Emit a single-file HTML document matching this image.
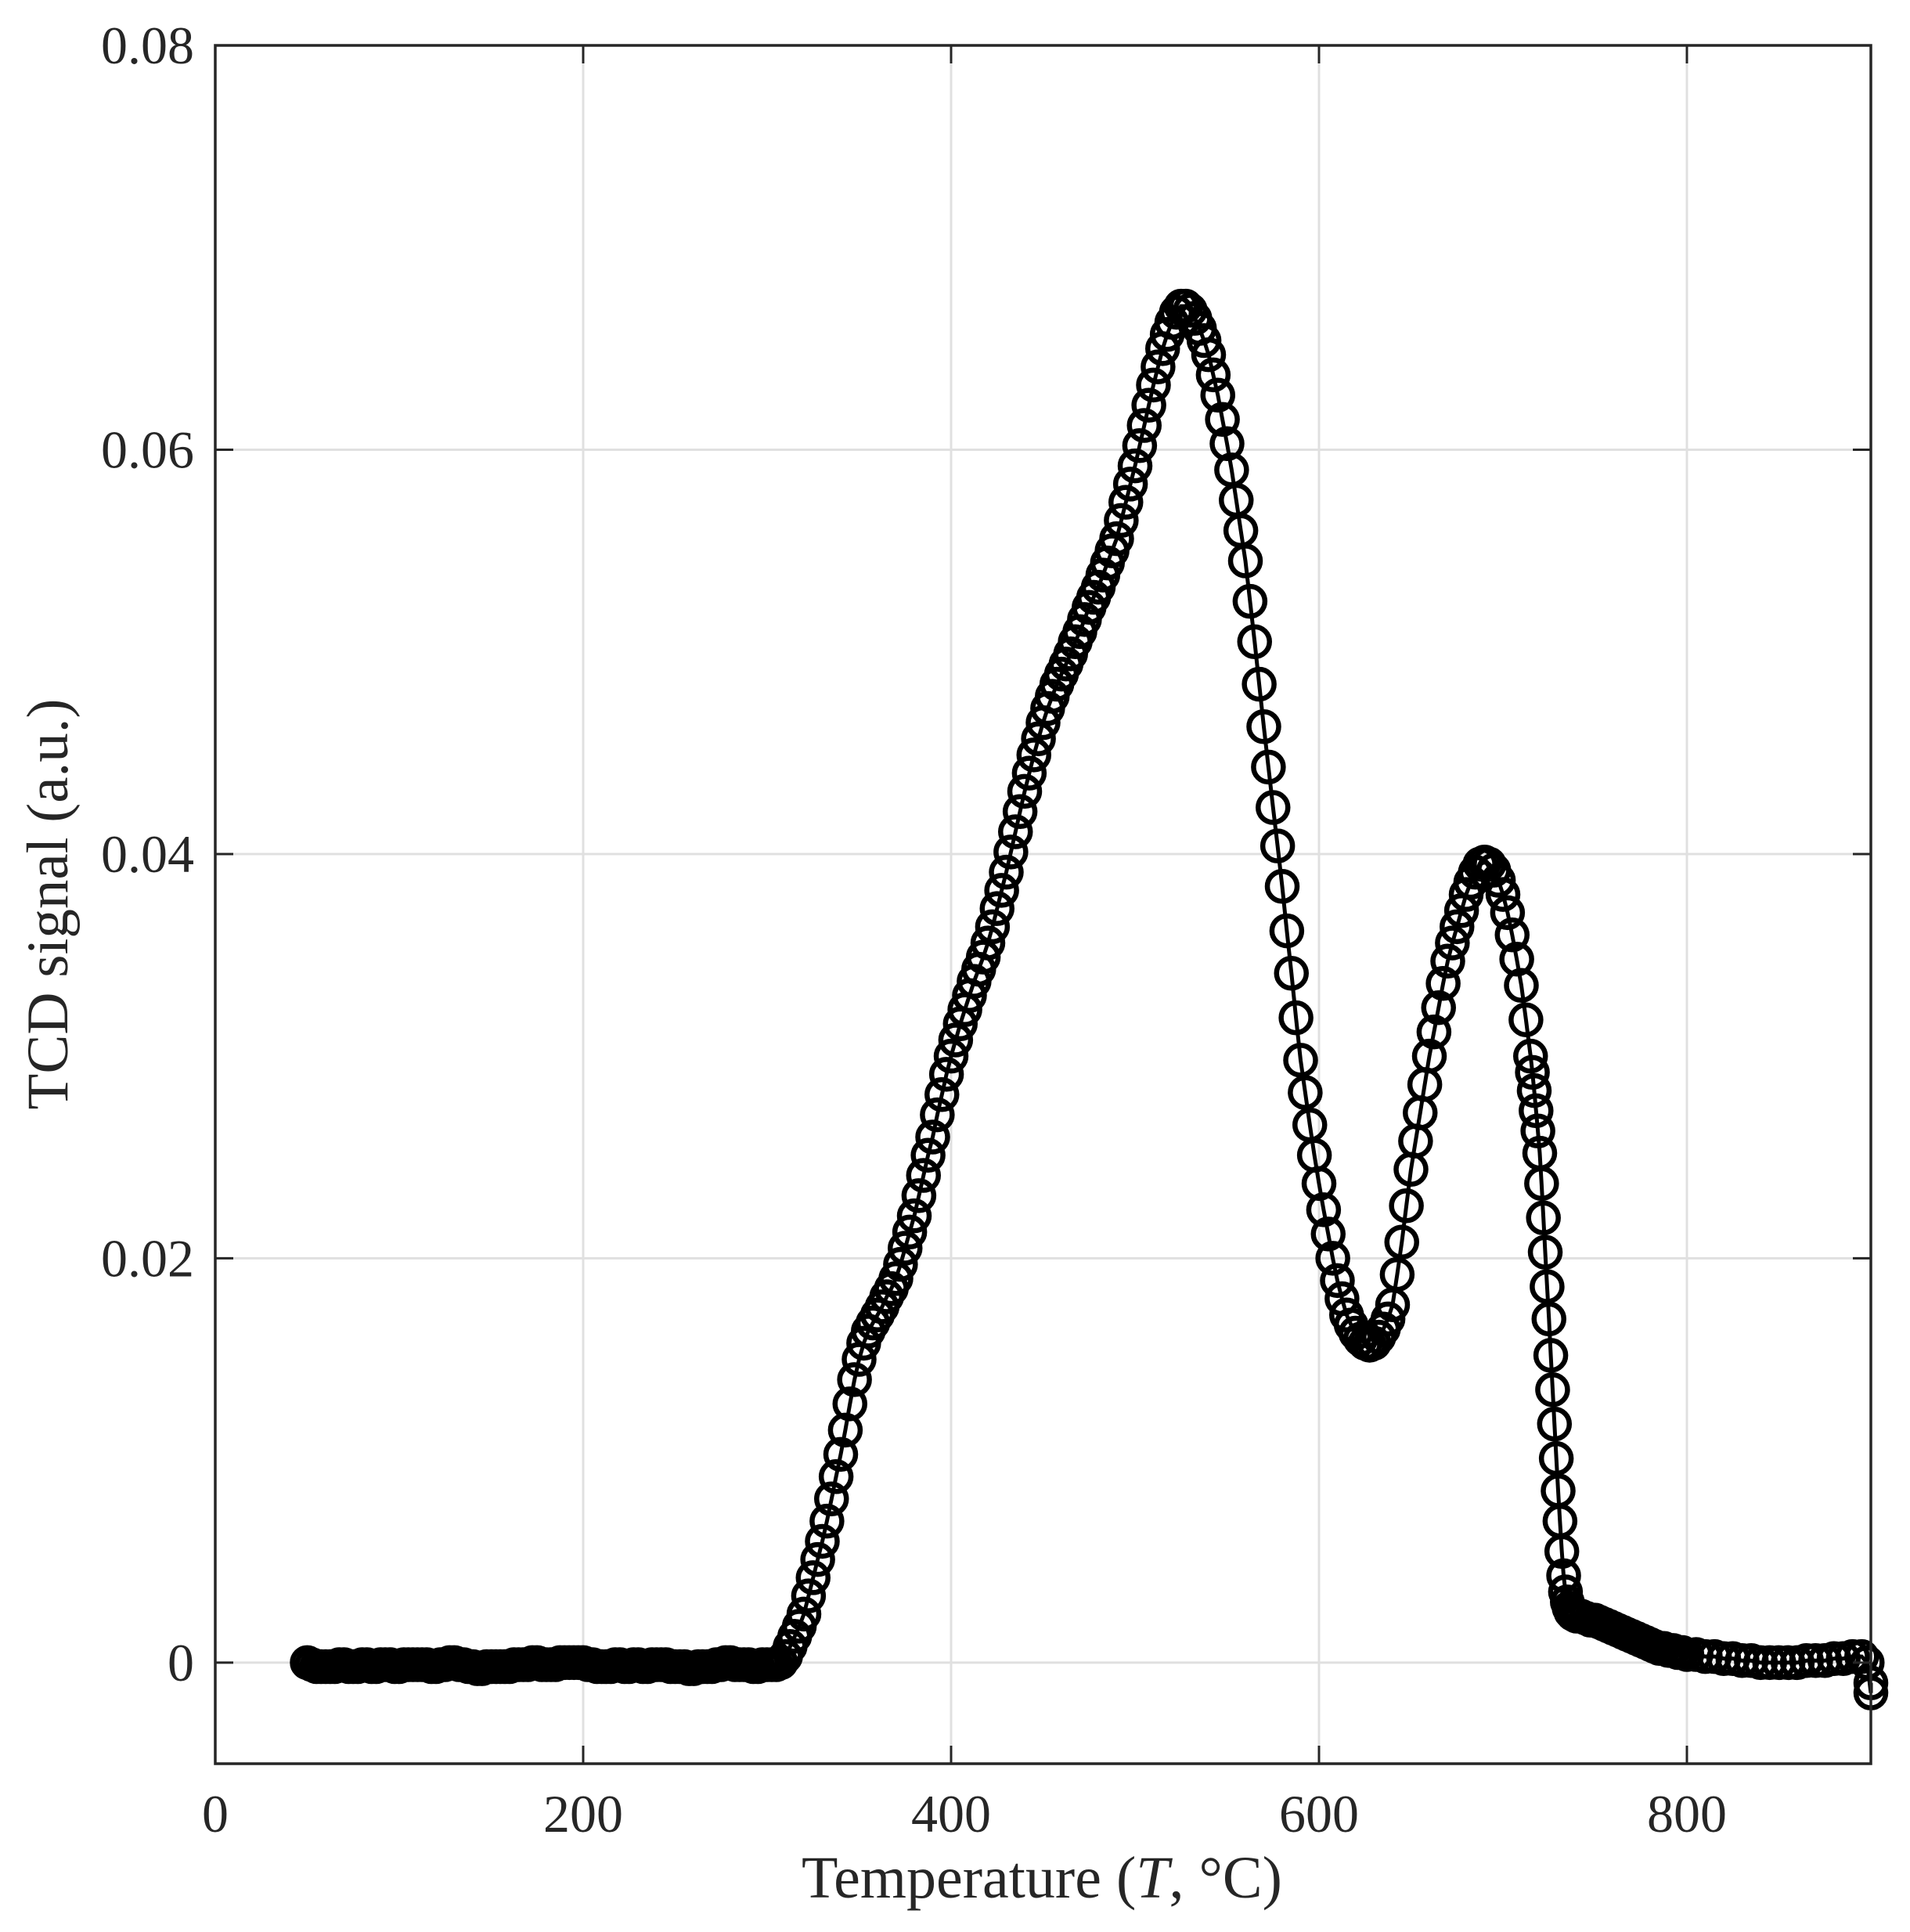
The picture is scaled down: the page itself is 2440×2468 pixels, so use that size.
<!DOCTYPE html>
<html><head><meta charset="utf-8"><style>
html,body{margin:0;padding:0;background:#fff;}
svg{display:block;}
text{font-family:"Liberation Serif",serif;fill:#262626;}
</style></head><body>
<svg id="chart" width="2440" height="2468" viewBox="0 0 2440 2468" xmlns="http://www.w3.org/2000/svg">
<rect width="2440" height="2468" fill="#fff"/>
<g id="grid"></g>
<g id="series"></g>
<g id="axes"></g>
<text x="1331" y="2424" font-size="76" text-anchor="middle">Temperature (<tspan font-style="italic">T</tspan>, °C)</text>
<text transform="translate(86,1155) rotate(-90)" font-size="75" text-anchor="middle">TCD signal (a.u.)</text>
</svg>
<script>
const xTicks=[0,200,400,600,800];
const xTickLabels=["0","200","400","600","800"];
const yTicks=[0,0.02,0.04,0.06,0.08];
const yTickLabels=["0","0.02","0.04","0.06","0.08"];
const temps=[50,52.5,55,57.5,60,62.5,65,67.5,70,72.5,75,77.5,80,82.5,85,87.5,90,92.5,95,97.5,100,102.5,105,107.5,110,112.5,115,117.5,120,122.5,125,127.5,130,132.5,135,137.5,140,142.5,145,147.5,150,152.5,155,157.5,160,162.5,165,167.5,170,172.5,175,177.5,180,182.5,185,187.5,190,192.5,195,197.5,200,202.5,205,207.5,210,212.5,215,217.5,220,222.5,225,227.5,230,232.5,235,237.5,240,242.5,245,247.5,250,252.5,255,257.5,260,262.5,265,267.5,270,272.5,275,277.5,280,282.5,285,287.5,290,292.5,295,297.5,300,302.5,
305,307.5,310,312.5,315,317.5,320,322.5,325,327.5,330,332.5,335,337.5,340,342.5,345,347.5,350,352.5,355,357.5,360,362.5,365,367.5,370,372.5,375,377.5,380,382.5,385,387.5,390,392.5,395,397.5,400,402.5,405,407.5,410,412.5,415,417.5,420,422.5,425,427.5,430,432.5,435,437.5,440,442.5,445,447.5,450,452.5,455,457.5,460,462.5,465,467.5,470,472.5,475,477.5,480,482.5,485,487.5,490,492.5,495,497.5,500,502.5,505,507.5,510,512.5,515,517.5,520,522.5,525,527.5,530,532.5,535,537.5,540,542.5,545,547.5,
550,552.5,555,557.5,560,562.5,565,567.5,570,572.5,575,577.5,580,582.5,585,587.5,590,592.5,595,597.5,600,602.5,605,607.5,610,612.5,615,617.5,620,622.5,625,627.5,630,
632.5,635,637.5,640,642.5,645,647.5,650,652.5,655,657.5,660,662.5,665,667.5,670,672.5,675,677.5,680,682.5,685,687.5,690,692.5,695,697.5,700,702.5,705,707.5,710,712.5,
715,716,717,718,719,720,721,722,723,724,725,726,727,728,729,730,731,732,733,734,735,736,737,738,740,
742.5,745,747.5,750,752.5,755,757.5,760,762.5,765,767.5,770,772.5,775,777.5,780,782.5,785,787.5,790,792.5,795,797.5,800,805,810,815,820,825,830,835,840,845,850,855,860,865,870,875,880,885,890,895,898,900,900];
const signal=[0,-0.0001,-0.0002,-0.0002,-0.0002,-0.0002,-0.0002,-0.0001,-0.0001,-0.0002,-0.0002,-0.0002,-0.0001,-0.0001,-0.0002,-0.0002,-0.0001,-0.0001,-0.0001,-0.0002,-0.0002,-0.0001,-0.0001,-0.0001,-0.0001,-0.0001,-0.0001,-0.0002,-0.0002,-0.0001,-0.0001,0,0,-0.0001,-0.0001,-0.0002,-0.0002,-0.0003,-0.0003,-0.0002,-0.0002,-0.0002,-0.0002,-0.0002,-0.0002,-0.0001,-0.0001,-0.0001,-0.0001,0,0,-0.0001,-0.0001,-0.0001,-0.0001,0,0,0,0,0,0,-0.0001,-0.0001,-0.0002,-0.0002,-0.0002,-0.0002,-0.0001,-0.0001,-0.0002,-0.0002,-0.0001,-0.0001,-0.0002,-0.0002,-0.0001,-0.0001,-0.0001,-0.0001,-0.0002,-0.0002,-0.0002,-0.0002,-0.0003,-0.0003,-0.0002,-0.0002,-0.0002,-0.0002,-0.0001,-0.0001,0,0,-0.0001,-0.0001,-0.0001,-0.0001,-0.0002,-0.0002,-0.0001,-0.0001,-0.0001,
-0.0001,0,0.0003,0.0008,0.0013,0.0018,0.0024,0.0033,0.0042,0.0051,0.0060,0.0070,0.0081,0.0092,0.0103,0.0115,0.0128,0.0140,0.0150,0.0158,0.0164,0.0168,0.0172,0.0176,0.0181,0.0185,0.0190,0.0197,0.0205,0.0213,0.0221,0.0231,0.0241,0.0251,0.0260,0.0271,0.0281,0.0291,0.0300,0.0308,0.0316,0.0323,0.0330,0.0337,0.0343,0.0349,0.0356,0.0364,0.0373,0.0382,0.0391,0.0401,0.0411,0.0421,0.0431,0.0440,0.0449,0.0457,0.0465,0.0472,0.0478,0.0484,0.0489,0.0494,0.0499,0.0505,0.0510,0.0516,0.0522,0.0527,0.0532,0.0538,0.0544,0.0550,0.0556,0.0565,0.0574,0.0583,0.0592,0.0602,0.0612,0.0622,0.0632,0.0641,0.0650,0.0657,0.0663,0.0668,0.0671,0.0671,0.0669,0.0665,0.0660,0.0654,0.0647,0.0637,0.0627,0.0615,
0.0603,0.0590,0.0575,0.0560,0.0545,0.0525,0.0505,0.0484,0.0463,0.0443,0.0423,0.0404,0.0384,0.0362,0.0341,0.0319,0.0298,0.0282,0.0266,0.0251,0.0237,0.0224,0.0212,0.0200,0.0189,0.0180,0.0172,0.0167,0.0163,0.0160,0.0158,0.0157,0.0158,
0.0161,0.0165,0.0170,0.0177,0.0192,0.0208,0.0226,0.0244,0.0258,0.0272,0.0286,0.0300,0.0312,0.0324,0.0336,0.0347,0.0356,0.0364,0.0372,0.0380,0.0386,0.0391,0.0395,0.0396,0.0395,0.0392,0.0387,0.0380,0.0371,0.0360,0.0348,0.0335,0.0318,
0.0300,0.0292,0.0283,0.0273,0.0263,0.0252,0.0237,0.0220,0.0203,0.0186,0.0170,0.0152,0.0135,0.0118,0.0101,0.0085,0.0070,0.0055,0.0043,0.0035,0.0030,0.0027,0.0025,0.0024,0.0023,
0.0023,0.0022,0.0021,0.0021,0.0020,0.0019,0.0018,0.0017,0.0016,0.0015,0.0014,0.0013,0.0012,0.0011,0.0010,0.0009,0.0008,0.0007,0.0007,0.0006,0.0006,0.0005,0.0005,0.0004,0.0004,0.0003,0.0003,0.0002,0.0002,0.0001,0.0001,0,0,0,0,0,0.0001,0.0001,0.0001,0.0002,0.0002,0.0003,0.0003,0,-0.0015,-0.0010];

const L=275,R=2390,T=58,B=2253;
const xMin=0,xMax=900,yMin=-0.005,yMax=0.08;
function xs(v){return L+(v-xMin)/(xMax-xMin)*(R-L);}
function ys(v){return B-(v-yMin)/(yMax-yMin)*(B-T);}
const NS="http://www.w3.org/2000/svg";
function mk(tag,attrs,parent){const e=document.createElementNS(NS,tag);for(const k in attrs)e.setAttribute(k,attrs[k]);parent.appendChild(e);return e;}
const grid=document.getElementById('grid'),axes=document.getElementById('axes'),series=document.getElementById('series');
xTicks.forEach((t,i)=>{
  const x=xs(t);
  const g=mk('line',{x1:x,x2:x,y1:T,y2:B,stroke:'#e0e0e0','stroke-width':3},grid);
  
  
  const t1=mk('line',{x1:x,x2:x,y1:B,y2:B-23,stroke:'#262626','stroke-width':3},axes);
  
  
  const t2=mk('line',{x1:x,x2:x,y1:T,y2:T+23,stroke:'#262626','stroke-width':3},axes);
  
  
  const lb=mk('text',{x:x,y:2340,'font-size':68,'text-anchor':'middle'},axes);
  lb.textContent=xTickLabels[i];
  
  
});
yTicks.forEach((t,i)=>{
  const y=ys(t);
  const g=mk('line',{x1:L,x2:R,y1:y,y2:y,stroke:'#e0e0e0','stroke-width':3},grid);
  
  
  const t1=mk('line',{x1:L,x2:L+23,y1:y,y2:y,stroke:'#262626','stroke-width':3},axes);
  
  
  const t2=mk('line',{x1:R,x2:R-23,y1:y,y2:y,stroke:'#262626','stroke-width':3},axes);
  
  
  const lb=mk('text',{x:248,y:y+23,'font-size':68,'text-anchor':'end'},axes);
  lb.textContent=yTickLabels[i];
  
  
});
const frame=mk('rect',{x:L,y:T,width:R-L,height:B-T,fill:'none',stroke:'#262626','stroke-width':3.5},axes);


let d='';
temps.forEach((t,i)=>{d+=(i?'L':'M')+xs(t).toFixed(1)+' '+ys(signal[i]).toFixed(1);});
const line=mk('path',{d:d,fill:'none',stroke:'#000','stroke-width':5},series);


temps.forEach((t,i)=>{
  const c=mk('circle',{cx:xs(t),cy:ys(signal[i]),r:19,fill:'none',stroke:'#000','stroke-width':6.5},series);
  
  
});
</script>
</body></html>
